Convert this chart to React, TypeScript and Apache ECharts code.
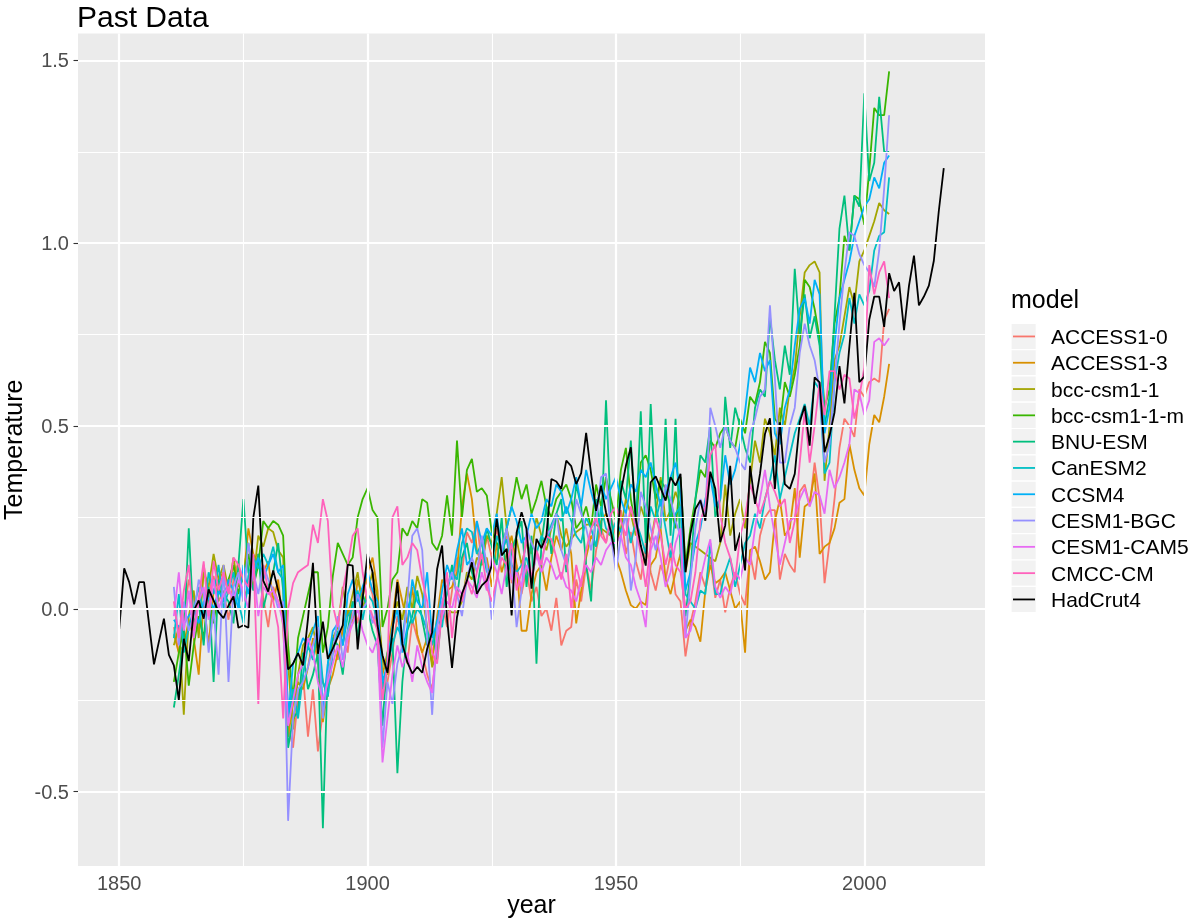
import React, { useEffect, useRef } from "react";
import * as echarts from "echarts";

const FONT = "'Liberation Sans', Arial, Helvetica, sans-serif";

const MODEL_START_YEAR = 1861;
const OBS_START_YEAR = 1850;

const modelNames = [
  "ACCESS1-0",
  "ACCESS1-3",
  "bcc-csm1-1",
  "bcc-csm1-1-m",
  "BNU-ESM",
  "CanESM2",
  "CCSM4",
  "CESM1-BGC",
  "CESM1-CAM5",
  "CMCC-CM",
];
const modelColors = [
  "#F8766D",
  "#D89000",
  "#A3A500",
  "#39B600",
  "#00BF7D",
  "#00BFC4",
  "#00B0F6",
  "#9590FF",
  "#E76BF3",
  "#FF62BC",
];
const obsName = "HadCrut4";
const obsColor = "#000000";
const legendTitle = "model";

// yearly values 1861..2005
const access10 = [
  -0.05, -0.12, -0.02, 0.08, 0.03, -0.06, 0.12, 0.04, 0.09, 0.02,
  0.05, -0.03, 0.08, 0.13, 0.02, 0.07, 0.1, 0.15, 0.03, -0.05,
  0.06, 0.02, -0.02, -0.32, -0.38, -0.24, -0.18, -0.35, -0.22, -0.39,
  -0.28, -0.2, -0.1, -0.14, -0.05, -0.12, 0.02, -0.04, 0.05, 0.08,
  0.04, -0.06, -0.25, -0.2, -0.12, -0.02, -0.08, -0.15, -0.03, -0.08,
  -0.12, -0.18, -0.22, -0.1, 0.02, -0.05, 0.05, 0.14, 0.1, 0.21,
  0.18, 0.24, 0.12, 0.2, 0.14, 0.22, 0.15, 0.2, 0.07, 0.12,
  0.04, 0.11, 0.02, 0.06, -0.02, 0.0, -0.06, 0.03, -0.1, -0.06,
  -0.05, 0.08, 0.02, 0.12, 0.05, 0.16, 0.22, 0.18, 0.25, 0.2,
  0.27, 0.15, 0.21, 0.13, 0.08, 0.18, 0.1, 0.05, 0.12, 0.08,
  0.15, 0.04, 0.02, -0.13, -0.04, 0.02, 0.1, 0.06, 0.14, 0.03,
  0.08, -0.01, 0.06, 0.1, 0.04, 0.01, 0.15, 0.08, 0.2, 0.25,
  0.27, 0.27, 0.08, 0.15, 0.12, 0.1, 0.32, 0.34, 0.28, 0.4,
  0.3, 0.07, 0.18, 0.3, 0.44, 0.52, 0.5, 0.47, 0.6, 0.58,
  0.62, 0.63, 0.62, 0.79, 0.82,
];
const access13 = [
  -0.07, -0.12, -0.1, -0.03, -0.08, -0.18, 0.02, -0.1, 0.05, 0.08,
  0.1, 0.04, 0.12, 0.06, 0.08, 0.22, 0.15, 0.12, 0.1, 0.13,
  0.02, 0.08, -0.05, -0.35, -0.26, -0.2, -0.22, -0.16, -0.08, -0.14,
  -0.31, -0.22, -0.18, -0.12, -0.06, 0.0, -0.04, 0.08, 0.03, 0.1,
  0.14, 0.05, -0.18, -0.12, -0.03, 0.08, 0.02, -0.04, 0.06, -0.07,
  -0.12, -0.08, -0.15, -0.02, 0.08, 0.05, 0.06, 0.1, 0.28, 0.37,
  0.3, 0.16, 0.12, 0.14, 0.06, 0.18, 0.1, 0.15, 0.2, 0.12,
  -0.06, -0.06, 0.04, 0.1, 0.12, 0.05, 0.14, 0.2, 0.16, 0.22,
  0.15, -0.04, 0.05, 0.14, 0.2, 0.17, 0.24, 0.26, 0.22, 0.14,
  0.1, 0.05, 0.01, 0.0, 0.02, 0.01, 0.12, 0.14, 0.22, 0.08,
  0.04, 0.1, 0.15, -0.06, -0.03, -0.05, -0.09, 0.05, 0.12, 0.07,
  0.08, 0.1, 0.05, 0.0, 0.02, -0.12, 0.16, 0.17, 0.13, 0.08,
  0.1, 0.24, 0.3, 0.2, 0.22, 0.33, 0.14, 0.28, 0.29, 0.37,
  0.15, 0.17, 0.18, 0.22, 0.29, 0.3, 0.45, 0.38, 0.33, 0.31,
  0.45, 0.53, 0.51, 0.58, 0.67,
];
const bccCsm11 = [
  -0.1, -0.05, -0.29, -0.02, 0.05, -0.08, 0.1, 0.06, 0.15, 0.08,
  0.12, 0.05, 0.14, 0.06, 0.1, 0.18, 0.08, 0.2, 0.17, 0.22,
  0.21, 0.16, 0.14, -0.15, -0.33, -0.18, -0.1, -0.08, -0.05, -0.12,
  -0.2, -0.24, -0.08, -0.05, 0.06, -0.02, 0.04, 0.1, 0.0, 0.05,
  0.1, 0.03, -0.14, -0.18, -0.05, 0.02, -0.03, 0.06, 0.0, 0.09,
  0.04, -0.05, -0.16, -0.12, 0.0, 0.0, -0.01, -0.01, 0.02, 0.1,
  0.08, 0.14, 0.12, 0.2, 0.18, 0.26, 0.36, 0.22, 0.16, 0.19,
  0.12, 0.18, 0.15, 0.25, 0.2, 0.16, 0.22, 0.26, 0.2, 0.17,
  0.19, 0.21, 0.22, 0.23, 0.23, 0.23, 0.22, 0.21, 0.2, 0.18,
  0.22, 0.3, 0.26, 0.2, 0.28, 0.24, 0.18, 0.26, 0.36, 0.24,
  0.27, 0.32, 0.28, 0.1, 0.18, 0.17, 0.16, 0.15, 0.14, 0.13,
  0.18, 0.34, 0.2, 0.26, 0.3, 0.22, 0.35, 0.46, 0.4, 0.52,
  0.48, 0.42, 0.55, 0.5, 0.6, 0.66, 0.8, 0.92, 0.94, 0.95,
  0.92, 0.35, 0.5, 0.68, 0.72, 0.8, 0.88, 0.83, 0.95, 0.98,
  1.02, 1.06, 1.11, 1.09, 1.08,
];
const bccCsm11m = [
  -0.2, -0.12, -0.05, -0.21, -0.1, -0.02, -0.08, 0.05, -0.04, 0.06,
  0.02, 0.08, 0.12, 0.04, 0.1, 0.15, 0.06, 0.12, 0.24, 0.22,
  0.24, 0.23, 0.2, -0.1, -0.25, -0.08, -0.02, 0.04, 0.1, 0.1,
  -0.12, -0.05, 0.09, 0.18, 0.15, 0.12, 0.14, 0.25, 0.3, 0.33,
  0.27, 0.25, -0.05, 0.0, 0.08, 0.1, 0.22, 0.2, 0.24, 0.22,
  0.3, 0.29, 0.18, 0.16, 0.2, 0.31, 0.2, 0.46, 0.25, 0.38,
  0.41, 0.32, 0.33, 0.31, 0.21, 0.18, 0.16, 0.22, 0.28, 0.36,
  0.3, 0.34, 0.26, 0.3, 0.35, 0.28, 0.25, 0.3, 0.32, 0.34,
  0.3, 0.22, 0.24, 0.28, 0.22, 0.34, 0.28, 0.36, 0.3, 0.24,
  0.38, 0.44, 0.3, 0.22, 0.4, 0.42, 0.38, 0.3, 0.35, 0.33,
  0.28, 0.22, 0.36, 0.12, 0.22, 0.3, 0.38, 0.36, 0.46, 0.44,
  0.48, 0.5, 0.46, 0.44, 0.52, 0.48, 0.58, 0.56, 0.62, 0.73,
  0.7, 0.52, 0.5, 0.62, 0.58, 0.64, 0.72, 0.9, 0.88, 0.82,
  0.74, 0.55, 0.6, 0.78, 0.85, 1.02, 0.98, 1.13, 1.12, 1.05,
  1.2, 1.37, 1.35, 1.35, 1.47,
];
const bnuEsm = [
  -0.27, -0.18, -0.08, 0.22, -0.05, 0.02, -0.1, 0.06, -0.2, 0.08,
  0.04, 0.02, -0.04, 0.12, 0.3, 0.1, 0.05, 0.15, 0.0, 0.06,
  0.1, 0.18, 0.05, -0.38, -0.3, -0.28, -0.12, -0.22, -0.18, -0.12,
  -0.6, -0.15, -0.08, -0.1, -0.18, -0.06, 0.02, -0.08, 0.04, 0.0,
  -0.06, -0.1, -0.32, -0.12, -0.08, -0.45, -0.2, -0.06, -0.02, 0.05,
  -0.03, -0.1, -0.05, -0.14, 0.0, 0.04, 0.12, 0.03, 0.14, 0.18,
  0.1, 0.05, 0.14, 0.22, 0.17, 0.12, 0.25, 0.06, 0.16, 0.2,
  0.24, 0.06, 0.2, -0.15, 0.18, 0.28, 0.15, 0.26, 0.3, 0.1,
  0.2, 0.34, 0.28, 0.12, 0.02, 0.3, 0.2, 0.57, 0.25, 0.15,
  0.35, 0.3, 0.46, 0.22, 0.54, 0.18, 0.56, 0.28, 0.22, 0.52,
  0.2, 0.52, 0.15, -0.02, 0.1, 0.3, 0.42, 0.4, 0.5, 0.25,
  0.3, 0.58, 0.44, 0.55, 0.5, 0.44, 0.4, 0.55, 0.6, 0.58,
  0.8, 0.68, 0.6, 0.72, 0.64, 0.93, 0.75, 0.86, 0.74, 0.8,
  0.72, 0.5, 0.58, 0.8, 1.04, 1.13, 0.98, 1.13, 1.1, 1.41,
  1.17, 1.22, 1.4, 1.25, 1.25,
];
const canEsm2 = [
  -0.08, 0.04, -0.12, -0.05, 0.0, 0.06, -0.02, 0.1, 0.04, 0.12,
  0.0, 0.05, 0.1, 0.02, -0.04, 0.09, 0.14, 0.11, 0.15, 0.12,
  0.17, 0.1, 0.08, -0.3, -0.22, -0.3, -0.18, -0.1, -0.14, -0.05,
  -0.2, -0.24, -0.12, -0.06, -0.1, -0.02, 0.0, 0.05, -0.03, 0.04,
  0.02, -0.04, -0.22, -0.15, -0.1, -0.05, -0.08, 0.02, -0.04, 0.0,
  -0.02, -0.06, -0.1, -0.03, -0.05, 0.06, 0.1, 0.08, 0.18, 0.22,
  0.21, 0.15, 0.18, 0.1, 0.12, 0.2, 0.16, 0.19, 0.12, 0.1,
  0.12, 0.14, 0.08, 0.15, 0.2, 0.18, 0.23, 0.26, 0.24, 0.28,
  0.24, 0.2, 0.18, 0.25, 0.22, 0.17, 0.28, 0.22, 0.2, 0.24,
  0.21, 0.26, 0.18, 0.24, 0.2, 0.15, 0.28, 0.24, 0.3, 0.22,
  0.14, 0.26, 0.28, 0.04, 0.02, 0.0, 0.05, 0.04, 0.18, 0.04,
  0.04, 0.1, 0.14, 0.06, 0.12, 0.18, 0.2, 0.26, 0.22, 0.3,
  0.35, 0.42, 0.3, 0.36, 0.42, 0.48, 0.52, 0.56, 0.5, 0.62,
  0.6, 0.37, 0.4, 0.62, 0.7, 0.75, 0.85, 0.78, 0.86, 0.83,
  0.87, 0.98, 1.02, 1.03, 1.18,
];
const ccsm4 = [
  -0.03, -0.05, -0.04, -0.02, 0.0, -0.04, 0.02, 0.03, 0.0, 0.05,
  0.02, 0.08, 0.05, 0.0, 0.12, 0.04, 0.1, 0.14, 0.08, 0.12,
  0.15, 0.1, 0.12, -0.3, -0.15, -0.12, -0.08, -0.1, -0.06, -0.02,
  -0.28, -0.15, -0.06, -0.04, -0.1, 0.04, 0.08, 0.02, 0.06, 0.1,
  0.05, 0.02, -0.2, -0.15, -0.05, 0.0, -0.12, -0.05, 0.08, 0.02,
  0.0, 0.1, -0.08, -0.04, 0.05, 0.12, 0.08, 0.16, 0.22, 0.12,
  0.14, 0.24, 0.18, 0.22, 0.2, 0.26, 0.15, 0.22, 0.28, 0.24,
  0.18, 0.2, 0.26, 0.22, 0.24, 0.3, 0.28, 0.34, 0.32, 0.26,
  0.3, 0.36, 0.28, 0.38, 0.32, 0.27, 0.34, 0.3, 0.33, 0.36,
  0.3, 0.26, 0.34, 0.32, 0.38, 0.36, 0.4, 0.34, 0.28, 0.32,
  0.36, 0.4, 0.32, 0.05, 0.1, 0.18, 0.22, 0.3, 0.36, 0.28,
  0.3, 0.42, 0.34, 0.38, 0.45, 0.54, 0.66, 0.62, 0.7, 0.65,
  0.68, 0.48, 0.45, 0.55, 0.6, 0.72, 0.82, 0.85, 0.78, 0.9,
  0.86, 0.48, 0.55, 0.72, 0.85, 0.9, 0.95, 1.02, 1.06, 1.1,
  1.12, 1.18, 1.15, 1.22, 1.24,
];
const cesm1Bgc = [
  0.06, -0.1, 0.02, -0.06, -0.02, 0.08, 0.04, -0.12, 0.0, -0.18,
  0.12, -0.2, 0.06, 0.1, 0.02, 0.18, 0.1, 0.04, 0.12, 0.08,
  0.05, 0.0, 0.02, -0.58, -0.3, -0.22, -0.2, -0.16, -0.1, -0.05,
  -0.3, -0.18, -0.12, -0.02, -0.14, -0.06, -0.02, 0.04, 0.0, 0.02,
  -0.04, 0.0, -0.38, -0.2, -0.26, -0.15, -0.1, 0.02, 0.2, 0.22,
  0.16, -0.08, -0.29, -0.05, 0.02, 0.06, 0.1, 0.04, -0.02, 0.08,
  0.14, 0.1, 0.2, 0.12, -0.03, 0.08, 0.16, 0.22, 0.12, -0.05,
  0.05, 0.22, 0.18, 0.15, 0.12, 0.2, 0.22, 0.26, 0.16, 0.12,
  0.18, 0.3, 0.26, 0.22, 0.16, 0.24, 0.36, 0.37, 0.2, 0.1,
  0.2, 0.26, 0.05, 0.14, 0.32, 0.28, 0.22, 0.16, 0.24, 0.34,
  0.3, 0.24, 0.2, -0.08, 0.08, 0.22, 0.3, 0.26, 0.55, 0.5,
  0.44, 0.5, 0.46, 0.44, 0.4, 0.38, 0.48, 0.52, 0.58, 0.6,
  0.83, 0.63, 0.4, 0.4, 0.5, 0.55, 0.7, 0.78, 0.72, 0.68,
  0.6, 0.4, 0.45, 0.62, 0.78, 0.92, 1.03, 1.02, 0.97, 0.94,
  0.92, 0.88, 0.98, 1.15, 1.35,
];
const cesm1Cam5 = [
  -0.02, 0.1, -0.06, 0.05, -0.08, 0.02, 0.06, -0.03, 0.08, 0.0,
  0.04, 0.06, 0.02, 0.08, 0.05, 0.0, 0.12, -0.02, 0.06, 0.04,
  0.05, 0.02, -0.04, -0.32, -0.25, -0.18, -0.15, -0.08, -0.12, -0.2,
  -0.25, -0.2, -0.15, -0.1, -0.16, -0.08, -0.04, 0.0, -0.06, -0.1,
  -0.12, -0.08, -0.42, -0.3, -0.18, -0.1, -0.16, -0.12, -0.2, -0.1,
  -0.16, -0.2, -0.23, -0.08, -0.02, 0.02, 0.0, 0.06, 0.04, 0.08,
  0.06, 0.03, 0.1, 0.05, 0.14, 0.1, 0.04, 0.12, 0.08, 0.1,
  0.06, 0.12, 0.08, 0.15, 0.1, 0.14, 0.12, 0.08, 0.1, 0.06,
  0.05, 0.02, 0.08, 0.12, 0.1, 0.14, 0.12, 0.16, 0.18, 0.18,
  0.2, 0.14, 0.12, 0.06, 0.02, -0.05, 0.16, 0.2, 0.14, 0.06,
  0.1, 0.18, 0.22, -0.08, -0.06, 0.0, 0.08, 0.14, 0.19, 0.06,
  0.03, 0.06, 0.04, 0.1, 0.08, 0.14, 0.12, 0.22, 0.3, 0.38,
  0.28, 0.2, 0.12, 0.18, 0.24, 0.25, 0.3, 0.33, 0.28, 0.32,
  0.31, 0.26, 0.38, 0.33, 0.36, 0.4, 0.45, 0.6, 0.59, 0.53,
  0.57, 0.73, 0.74, 0.72, 0.74,
];
const cmccCm = [
  0.02, -0.08, 0.05, 0.12, -0.06, 0.03, 0.13, -0.02, 0.13, 0.05,
  0.1, 0.04, 0.14, 0.12, 0.08, 0.06, 0.15, -0.26, 0.12, 0.05,
  0.02, -0.05, -0.3, 0.0, 0.07, 0.1, 0.11, 0.12, 0.23, 0.18,
  0.3, 0.24, 0.01, -0.05, 0.05, 0.12, 0.2, 0.22, 0.1, 0.02,
  -0.02, -0.06, -0.25, -0.15, 0.25, 0.28, 0.12, 0.14, 0.18, 0.16,
  0.08, 0.02, -0.12, -0.15, 0.0, 0.1, -0.08, 0.05, 0.02, 0.08,
  0.04, 0.1, 0.15, 0.06, 0.02, 0.08, 0.14, 0.12, 0.18, 0.05,
  0.1, 0.2, 0.08, 0.16, 0.12, 0.2, 0.19, 0.14, 0.08, 0.15,
  0.0, 0.12, 0.06, 0.16, 0.22, 0.25, 0.2, 0.18, 0.26, 0.28,
  0.24, 0.2, 0.28, 0.22, 0.15, 0.06, 0.18, 0.25, 0.2, 0.12,
  0.18, 0.12, 0.1, 0.0, 0.02, 0.1, 0.24, 0.28, 0.42, 0.45,
  0.26, 0.18, 0.14, 0.08, 0.2, 0.25, 0.34, 0.3, 0.26, 0.3,
  0.35, 0.32, 0.28, 0.3, 0.18, 0.24, 0.4, 0.54, 0.4, 0.5,
  0.62, 0.53, 0.65, 0.65, 0.6, 0.64, 0.63, 0.52, 0.58, 0.66,
  0.94, 0.86, 0.92, 0.95, 0.85,
];

// HadCrut4, yearly values 1850..2016
const hadCrut4 = [
  -0.055, 0.111, 0.073, 0.012, 0.073, 0.073, -0.041, -0.152, -0.089, -0.027,
  -0.126, -0.155, -0.25, -0.082, -0.143, -0.005, 0.023, -0.027, 0.053, 0.023,
  -0.009, -0.026, 0.009, 0.034, -0.052, -0.045, -0.052, 0.25, 0.337, 0.077,
  0.047, 0.105, 0.05, -0.009, -0.166, -0.15, -0.121, -0.155, -0.027, 0.126,
  -0.123, -0.035, -0.137, -0.109, -0.077, -0.045, 0.121, 0.118, -0.111, 0.027,
  0.15, 0.1, -0.045, -0.127, -0.175, -0.064, 0.073, -0.096, -0.146, -0.177,
  -0.159, -0.175, -0.109, -0.064, 0.109, 0.173, -0.027, -0.162, -0.023, 0.041,
  0.077, 0.127, 0.041, 0.064, 0.077, 0.118, 0.246, 0.146, 0.164, -0.018,
  0.209, 0.264, 0.218, 0.055, 0.191, 0.166, 0.2, 0.355, 0.348, 0.328,
  0.405, 0.39, 0.341, 0.371, 0.481, 0.369, 0.268, 0.337, 0.264, 0.209,
  0.137, 0.319, 0.391, 0.442, 0.246, 0.173, 0.118, 0.346, 0.362, 0.33,
  0.296, 0.36, 0.337, 0.369, 0.1, 0.205, 0.273, 0.296, 0.241, 0.375,
  0.328, 0.182, 0.228, 0.391, 0.159, 0.209, 0.105, 0.391, 0.287, 0.369,
  0.478, 0.521, 0.328, 0.51, 0.341, 0.328, 0.369, 0.51, 0.555, 0.446,
  0.633, 0.619, 0.428, 0.473, 0.537, 0.664, 0.562, 0.718, 0.864, 0.62,
  0.635, 0.791, 0.854, 0.854, 0.771, 0.918, 0.869, 0.893, 0.762, 0.884,
  0.966, 0.83, 0.854, 0.884, 0.952, 1.088, 1.205,
];

const modelValues = [
  access10,
  access13,
  bccCsm11,
  bccCsm11m,
  bnuEsm,
  canEsm2,
  ccsm4,
  cesm1Bgc,
  cesm1Cam5,
  cmccCm,
];

const xTickValues = [1850, 1900, 1950, 2000];
const xMinorGrid = [1875, 1925, 1975];
const yTickValues = [-0.5, 0, 0.5, 1, 1.5];
const yMinorGrid = [-0.25, 0.25, 0.75, 1.25];

const X_MIN = 1841.7;
const X_MAX = 2024.3;
const Y_MIN = -0.7035;
const Y_MAX = 1.5735;

function toPairs(start: number, vals: number[]) {
  return vals.map((v, i) => [start + i, v]);
}

export default function App() {
  const ref = useRef<HTMLDivElement>(null);

  useEffect(() => {
    if (!ref.current) return;
    const chart = echarts.init(ref.current, null, { renderer: "svg" });

    const gridLines = [
      ...xTickValues.map((v) => ({ xAxis: v, lineStyle: { width: 2.2 } })),
      ...xMinorGrid.map((v) => ({ xAxis: v, lineStyle: { width: 1.1 } })),
      ...yTickValues.map((v) => ({ yAxis: v, lineStyle: { width: 2.2 } })),
      ...yMinorGrid.map((v) => ({ yAxis: v, lineStyle: { width: 1.1 } })),
    ];

    const allNames = [...modelNames, obsName];
    const allColors = [...modelColors, obsColor];

    const series: any[] = [
      {
        type: "line",
        name: "__grid",
        data: [],
        silent: true,
        z: 1,
        markLine: {
          silent: true,
          symbol: ["none", "none"],
          label: { show: false },
          animation: false,
          lineStyle: { color: "#FFFFFF", type: "solid", width: 2 },
          emphasis: { disabled: true },
          data: gridLines,
        },
      },
      ...modelNames.map((name, i) => ({
        type: "line",
        name,
        data: toPairs(MODEL_START_YEAR, modelValues[i]),
        showSymbol: false,
        symbol: "none",
        silent: true,
        z: 2,
        lineStyle: { color: modelColors[i], width: 1.8 },
        itemStyle: { color: modelColors[i] },
      })),
      {
        type: "line",
        name: obsName,
        data: toPairs(OBS_START_YEAR, hadCrut4),
        showSymbol: false,
        symbol: "none",
        silent: true,
        z: 3,
        lineStyle: { color: obsColor, width: 1.8 },
        itemStyle: { color: obsColor },
      },
    ];

    const KEY_TOP = 323.3;
    const KEY_STEP = 26.3;
    const legendGraphics: any[] = [];
    allNames.forEach((name, i) => {
      const y0 = KEY_TOP + KEY_STEP * i;
      legendGraphics.push({
        type: "rect",
        z: 1,
        silent: true,
        shape: { x: 1011, y: y0, width: 25.3, height: KEY_STEP },
        style: { fill: "#F2F2F2", stroke: "#FFFFFF", lineWidth: 1.2 },
      });
      legendGraphics.push({
        type: "line",
        z: 2,
        silent: true,
        shape: { x1: 1013, y1: y0 + KEY_STEP / 2, x2: 1035, y2: y0 + KEY_STEP / 2 },
        style: { stroke: allColors[i], lineWidth: 1.8 },
      });
      legendGraphics.push({
        type: "text",
        z: 2,
        silent: true,
        x: 1051,
        y: y0 + KEY_STEP / 2,
        style: {
          text: name,
          fontSize: 21,
          fontFamily: FONT,
          fill: "#000000",
          align: "left",
          verticalAlign: "middle",
        },
      });
    });

    const option: any = {
      animation: false,
      textStyle: { fontFamily: FONT },
      title: {
        text: "Past Data",
        left: 77,
        top: 4.5,
        padding: 0,
        textStyle: {
          fontSize: 30,
          lineHeight: 24,
          fontWeight: "normal",
          color: "#000000",
          fontFamily: FONT,
        },
      },
      grid: {
        left: 78,
        top: 33.5,
        width: 907,
        height: 832.5,
        show: true,
        backgroundColor: "#EBEBEB",
        borderWidth: 0,
        containLabel: false,
      },
      xAxis: {
        type: "value",
        min: X_MIN,
        max: X_MAX,
        splitLine: { show: false },
        axisLine: { show: false },
        axisTick: {
          show: true,
          length: 4.5,
          customValues: xTickValues,
          lineStyle: { color: "#333333", width: 1.1 },
        },
        axisLabel: {
          customValues: xTickValues,
          color: "#4D4D4D",
          fontSize: 20,
          margin: 7,
          fontFamily: FONT,
          formatter: (v: number) => String(v),
        },
      },
      yAxis: {
        type: "value",
        min: Y_MIN,
        max: Y_MAX,
        splitLine: { show: false },
        axisLine: { show: false },
        axisTick: {
          show: true,
          length: 4.5,
          customValues: yTickValues,
          lineStyle: { color: "#333333", width: 1.1 },
        },
        axisLabel: {
          customValues: yTickValues,
          color: "#4D4D4D",
          fontSize: 20,
          margin: 9,
          fontFamily: FONT,
          formatter: (v: number) => v.toFixed(1),
        },
      },
      legend: { show: false },
      graphic: [
        ...legendGraphics,
        {
          type: "text",
          x: 1011,
          y: 299,
          silent: true,
          style: {
            text: legendTitle,
            fontSize: 25,
            fontFamily: FONT,
            fill: "#000000",
            align: "left",
            verticalAlign: "middle",
          },
        },
        {
          type: "text",
          x: 531.5,
          y: 904,
          silent: true,
          style: {
            text: "year",
            fontSize: 25,
            lineHeight: 22,
            fontFamily: FONT,
            fill: "#000000",
            align: "center",
            verticalAlign: "middle",
          },
        },
        {
          type: "text",
          x: 13,
          y: 449.75,
          rotation: Math.PI / 2,
          silent: true,
          style: {
            text: "Temperature",
            fontSize: 25,
            lineHeight: 22,
            fontFamily: FONT,
            fill: "#000000",
            align: "center",
            verticalAlign: "middle",
          },
        },
      ],
      series,
    };

    chart.setOption(option);
    return () => chart.dispose();
  }, []);

  return (
    <div
      ref={ref}
      style={{ position: "fixed", left: 0, top: 0, width: 1200, height: 922 }}
    />
  );
}
